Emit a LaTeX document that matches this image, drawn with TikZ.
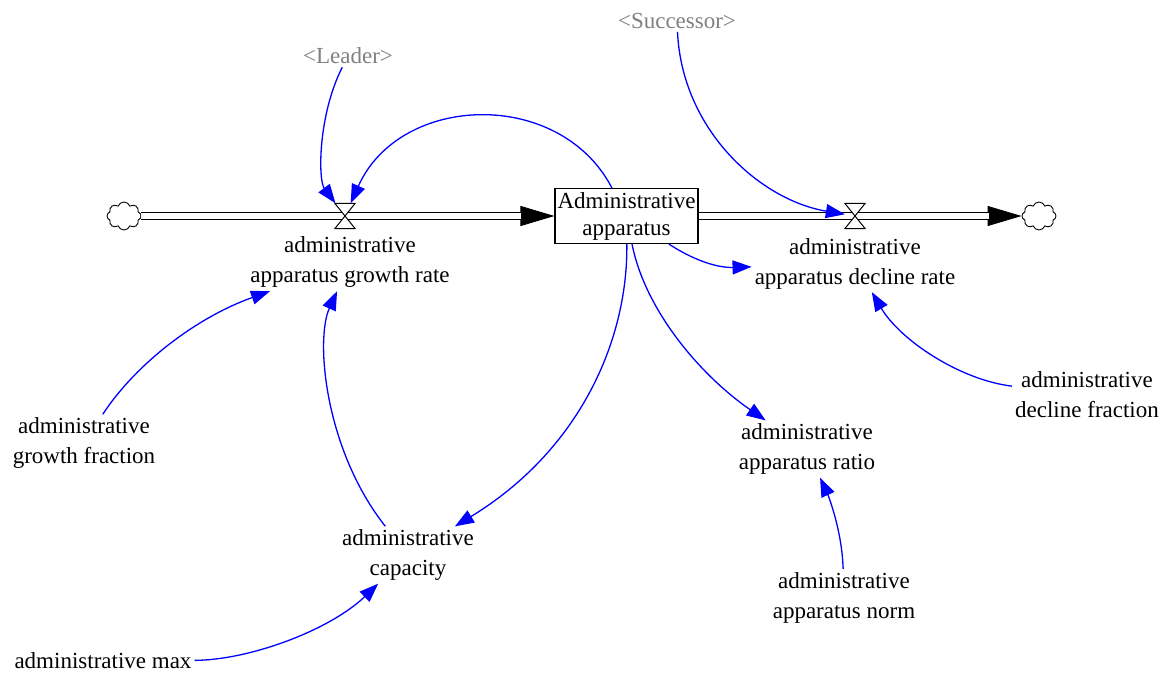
\documentclass[tikz,border=0pt]{standalone}
\usepackage{fontspec}
\setmainfont{Liberation Serif}
\usetikzlibrary{arrows.meta,shapes.symbols}

\begin{document}
\begin{tikzpicture}[x=1pt,y=-1pt,>={Triangle[length=19pt,width=14pt]},
  var/.style={align=center,inner sep=3pt,font=\fontsize{23}{30}\selectfont},
  ghost/.style={var,text=gray},
  stock/.style={draw,line width=1.1pt,align=center,inner sep=2.5pt,
    minimum width=143pt,minimum height=55pt,font=\fontsize{23}{27}\selectfont},
  valve/.style={minimum width=20pt,minimum height=25pt,inner sep=0pt},
  sink/.style={cloud,draw,cloud puffs=8,cloud puff arc=140,minimum width=34pt,
    minimum height=28pt,inner sep=0pt,line width=0.9pt},
  pipe/.style={double=white,double distance=5.5pt,line width=1.4pt},
  flowhead/.style={line width=1pt,-{Triangle[length=34pt,width=20pt]}},
  link/.style={blue,line width=1.3pt,->}]
\useasboundingbox (0,0) rectangle (1170,674);

% stock, clouds and valves
\node[stock] (app) at (626.5,216) {Administrative\\apparatus};
\node[sink] (src) at (124,216) {};
\node[sink] (snk) at (1039,216) {};
\node[valve] (vin) at (345,216) {};
\node[valve] (vout) at (855,216) {};

% variables
\node[var] (grate) at (350,262.5) {administrative\\apparatus growth rate};
\node[var] (drate) at (855,263.5) {administrative\\apparatus decline rate};
\node[ghost] (lead) at (348,56) {\textless Leader\textgreater};
\node[ghost] (succ) at (677,21) {\textless Successor\textgreater};
\node[var] (gfrac) at (84,443) {administrative\\growth fraction};
\node[var] (cap) at (408,555) {administrative\\capacity};
\node[var] (cmax) at (103,661) {administrative max};
\node[var] (ratio) at (807,449) {administrative\\apparatus ratio};
\node[var] (norm) at (844,597.5) {administrative\\apparatus norm};
\node[var] (dfrac) at (1087,395) {administrative\\decline fraction};

% flows
\draw[flowhead] (src) -- (app);
\draw[pipe,shorten >=33pt] (src) -- (app);
\draw[flowhead] (app) -- (snk);
\draw[pipe,shorten >=33pt] (app) -- (snk);
\foreach \v in {vin,vout}
  \draw[fill=white,line width=1pt] (\v.north west) -- (\v.north east)
    -- (\v.south west) -- (\v.south east) -- cycle;

% links
\draw[link] (lead) .. controls (318,115) and (318,180) .. (vin);
\draw[link] (app) .. controls (560,88) and (400,93) .. (vin);
\draw[link] (succ) .. controls (682,130) and (760,200) .. (vout);
\draw[link] (app) .. controls (690,258) and (715,268) .. (drate);
\draw[link] (app) .. controls (645,310) and (700,375) .. (ratio);
\draw[link] (app) .. controls (628,340) and (580,450) .. (cap);
\draw[link] (cap) .. controls (325,450) and (315,340) .. (grate);
\draw[link] (gfrac) .. controls (135,365) and (195,318) .. (grate);
\draw[link] (dfrac) .. controls (960,380) and (900,340) .. (drate);
\draw[link] (norm) .. controls (842,530) and (828,495) .. (ratio);
\draw[link] (cmax) .. controls (250,660) and (330,630) .. (cap);
\end{tikzpicture}
\end{document}
